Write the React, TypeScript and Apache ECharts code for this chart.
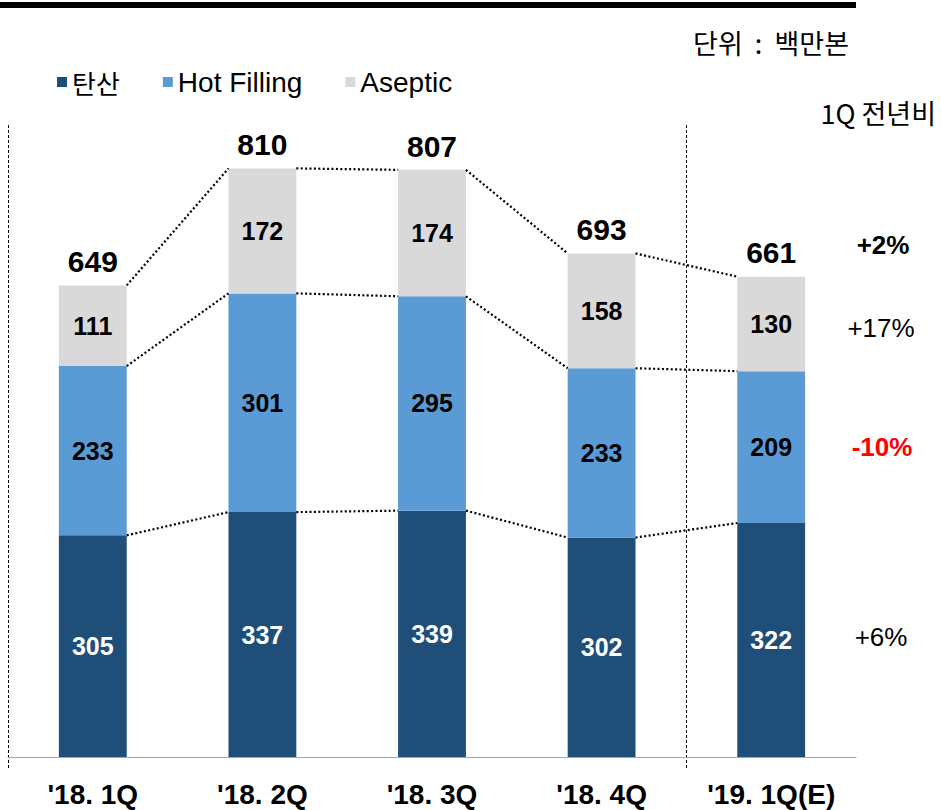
import React, { useEffect, useRef } from "react";
import * as echarts from "echarts";

const categories = ["'18. 1Q", "'18. 2Q", "'18. 3Q", "'18. 4Q", "'19. 1Q(E)"];
const seriesNames = ["탄산", "Hot Filling", "Aseptic"];
const carbonated = [305, 337, 339, 302, 322];
const hotFilling = [233, 301, 295, 233, 209];
const aseptic = [111, 172, 174, 158, 130];
const totals = [649, 810, 807, 693, 661];
const yoyLabels = ["+2%", "+17%", "-10%", "+6%"];

const FONT = "'Liberation Sans', Arial, 'Noto Sans CJK KR', sans-serif";
const KFONT = "'Noto Sans CJK KR', 'Liberation Sans', sans-serif";

export default function App() {
  const ref = useRef<HTMLDivElement>(null);
  useEffect(() => {
    document.body.style.margin = "0";
    const chart = echarts.init(ref.current!, null, { renderer: "svg" });

    const connectorData = categories.slice(0, -1).map((_, i) => {
      const c1a = carbonated[i];
      const c1b = carbonated[i + 1];
      const c2a = carbonated[i] + hotFilling[i];
      const c2b = carbonated[i + 1] + hotFilling[i + 1];
      const c3a = c2a + aseptic[i];
      const c3b = c2b + aseptic[i + 1];
      return [i, c1a, c1b, c2a, c2b, c3a, c3b];
    });

    const totalData = totals.map((t, i) => [i, t]);

    const insideLabel = (color: string) => ({
      show: true,
      position: "inside" as const,
      color,
      fontWeight: "bold" as const,
      fontSize: 25,
      fontFamily: FONT,
    });

    const option: any = {
      animation: false,
      grid: { left: 8, right: 85, top: 103, bottom: 53 },
      legend: {
        data: seriesNames,
        left: 52,
        top: 63,
        icon: "rect",
        itemWidth: 10,
        itemHeight: 10,
        itemGap: 43,
        selectedMode: false,
        formatter: (name: string) => (name === "탄산" ? `{k|${name}}` : `{e|${name}}`),
        textStyle: {
          rich: {
            k: { fontSize: 26, fontFamily: KFONT, color: "#000" },
            e: { fontSize: 28, fontFamily: FONT, color: "#000" },
          },
        },
      },
      xAxis: {
        type: "category",
        data: categories,
        axisLine: { lineStyle: { color: "#A6A6A6", width: 1 } },
        axisTick: { length: 13, lineStyle: { color: "#A6A6A6" } },
        axisLabel: {
          margin: 23,
          color: "#000",
          fontSize: 28,
          fontWeight: "bold",
          fontFamily: FONT,
        },
      },
      yAxis: {
        type: "value",
        min: 0,
        max: 900,
        show: false,
        splitLine: { show: false },
      },
      series: [
        {
          name: seriesNames[0],
          type: "bar",
          stack: "total",
          barWidth: "40%",
          data: carbonated,
          itemStyle: { color: "#1F4E79" },
          label: insideLabel("#FFFFFF"),
        },
        {
          name: seriesNames[1],
          type: "bar",
          stack: "total",
          barWidth: "40%",
          data: hotFilling,
          itemStyle: { color: "#5B9BD5" },
          label: insideLabel("#000000"),
        },
        {
          name: seriesNames[2],
          type: "bar",
          stack: "total",
          barWidth: "40%",
          data: aseptic,
          itemStyle: { color: "#D9D9D9" },
          label: insideLabel("#000000"),
        },
        {
          name: "totals",
          type: "custom",
          silent: true,
          z: 5,
          encode: { x: 0, y: 1 },
          data: totalData,
          renderItem: (_params: any, api: any) => {
            const p = api.coord([api.value(0), api.value(1)]);
            return {
              type: "text",
              x: p[0],
              y: p[1] - 9,
              style: {
                text: String(api.value(1)),
                fill: "#000",
                fontSize: 30,
                fontWeight: "bold",
                fontFamily: FONT,
                align: "center",
                verticalAlign: "bottom",
              },
            };
          },
        },
        {
          name: "connectors",
          type: "custom",
          silent: true,
          z: 4,
          encode: { x: 0, y: 1 },
          data: connectorData,
          renderItem: (_params: any, api: any) => {
            const i = api.value(0);
            const half = api.size([1, 0])[0] * 0.2;
            const children: any[] = [];
            for (let k = 0; k < 3; k++) {
              const a = api.coord([i, api.value(1 + k * 2)]);
              const b = api.coord([i + 1, api.value(2 + k * 2)]);
              children.push({
                type: "line",
                shape: { x1: a[0] + half, y1: a[1], x2: b[0] - half, y2: b[1] },
                style: { stroke: "#000", lineWidth: 2.2, lineDash: [2, 2.4] },
              });
            }
            return { type: "group", children };
          },
        },
      ],
      graphic: [
        { type: "rect", shape: { x: 0, y: 2, width: 856, height: 6 }, style: { fill: "#000" } },
        {
          type: "text",
          x: 849,
          y: 42,
          style: { text: "단위  :  백만본", fontSize: 27, fontFamily: KFONT, fill: "#000", align: "right", verticalAlign: "middle" },
        },
        {
          type: "text",
          x: 936,
          y: 112,
          style: { text: "1Q 전년비", fontSize: 27, fontFamily: KFONT, fill: "#000", align: "right", verticalAlign: "middle" },
        },
        {
          type: "line",
          shape: { x1: 8.5, y1: 125, x2: 8.5, y2: 770 },
          style: { stroke: "#000", lineWidth: 1, lineDash: [3, 2] },
        },
        {
          type: "line",
          shape: { x1: 686.5, y1: 125, x2: 686.5, y2: 770 },
          style: { stroke: "#000", lineWidth: 1, lineDash: [3, 2] },
        },
        {
          type: "text",
          x: 883,
          y: 245,
          style: { text: yoyLabels[0], fontSize: 26, fontWeight: "bold", fontFamily: FONT, fill: "#000", align: "center", verticalAlign: "middle" },
        },
        {
          type: "text",
          x: 881,
          y: 328,
          style: { text: yoyLabels[1], fontSize: 26, fontFamily: FONT, fill: "#000", align: "center", verticalAlign: "middle" },
        },
        {
          type: "text",
          x: 882,
          y: 447,
          style: { text: yoyLabels[2], fontSize: 26, fontWeight: "bold", fontFamily: FONT, fill: "#FF0000", align: "center", verticalAlign: "middle" },
        },
        {
          type: "text",
          x: 881,
          y: 637,
          style: { text: yoyLabels[3], fontSize: 26, fontFamily: FONT, fill: "#000", align: "center", verticalAlign: "middle" },
        },
      ],
    };

    chart.setOption(option);
    return () => chart.dispose();
  }, []);

  return (
    <div
      ref={ref}
      style={{ position: "fixed", left: 0, top: 0, width: 941, height: 810, background: "#fff" }}
    />
  );
}
